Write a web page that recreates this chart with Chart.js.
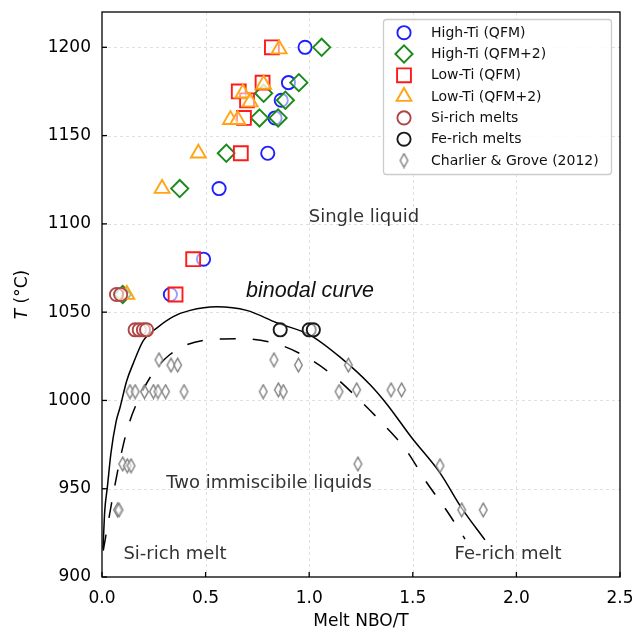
<!DOCTYPE html>
<html>
<head>
<meta charset="utf-8">
<script src="https://cdn.jsdelivr.net/npm/chart.js@4.4.1/dist/chart.umd.min.js"></script>
<style>
  html, body { margin: 0; padding: 0; background: #fff; }
  #wrap { width: 636px; height: 632px; }
</style>
</head>
<body>
<div id="wrap"><canvas id="c" width="636" height="632"></canvas></div>
<script>
// ---- experiment series: melt NBO/T and temperature (°C) ----
const highTiQfmNbo = [0.98, 0.90, 0.865, 0.835, 0.80, 0.565, 0.49, 0.33];
const highTiQfmT   = [1200, 1180, 1170, 1160, 1140, 1120, 1080, 1060];

const highTiQfm2Nbo = [1.06, 0.95, 0.885, 0.85, 0.78, 0.76, 0.60, 0.375, 0.10];
const highTiQfm2T   = [1200, 1180, 1170, 1160, 1174, 1160, 1140, 1120, 1060];

const lowTiQfmNbo = [0.82, 0.775, 0.66, 0.70, 0.685, 0.67, 0.44, 0.355];
const lowTiQfmT   = [1200, 1180, 1175, 1170, 1160, 1140, 1080, 1060];

const lowTiQfm2Nbo = [0.855, 0.78, 0.68, 0.715, 0.62, 0.655, 0.465, 0.29, 0.12];
const lowTiQfm2T   = [1199, 1179, 1174, 1169, 1159, 1159, 1140, 1120, 1060];

const siRichNbo = [0.07, 0.09, 0.16, 0.18, 0.20, 0.215];
const siRichT   = [1060, 1060, 1040, 1040, 1040, 1040];

const feRichNbo = [0.86, 1.00, 1.02];
const feRichT   = [1040, 1040, 1040];

const charlierNbo = [0.275, 0.333, 0.365, 0.135, 0.16, 0.205, 0.248, 0.27, 0.307, 0.396,
                     0.83, 0.948, 0.778, 0.851, 0.875, 1.189, 1.144, 1.229, 1.395, 1.446,
                     1.631, 1.736, 1.84, 1.235, 0.10, 0.122, 0.14, 0.075, 0.082];
const charlierT   = [1023, 1020, 1020, 1005, 1005, 1005, 1005, 1005, 1005, 1005,
                     1023, 1020, 1005, 1006, 1005, 1020, 1005, 1006, 1006, 1006,
                     963, 938, 938, 964, 964, 963, 963, 938, 938];

// ---- binodal (solid) and spinodal-like (dashed) curves ----
const binodalNbo = [0.005, 0.013, 0.026, 0.043, 0.068, 0.087, 0.119, 0.151, 0.20, 0.264, 0.344,
                    0.425, 0.553, 0.698, 0.843, 1.004, 1.149, 1.293, 1.374, 1.494, 1.631, 1.736, 1.848];
const binodalT   = [916, 937, 951, 970, 988, 996, 1011, 1021, 1034, 1041, 1047.5,
                    1051, 1053, 1051, 1044, 1037, 1024.5, 1009, 998, 979, 959, 939, 921];

const dashedNbo = [0.006, 0.039, 0.063, 0.103, 0.135, 0.159, 0.232, 0.328, 0.489, 0.658,
                   0.843, 0.98, 1.117, 1.245, 1.366, 1.47, 1.567, 1.664, 1.752];
const dashedT   = [915, 937, 952.5, 975, 988.5, 996, 1013, 1026, 1034, 1035,
                   1032, 1025, 1014, 1000, 985.5, 971.5, 953.5, 937.5, 921.5];

// ---- axes ----
const xTickStep = 0.5, xMin = 0, xMax = 2.5;
const yTickStep = 50, yMin = 900, yMax = 1220;

const FONT = "'DejaVu Sans', sans-serif";

function pts(xs, ys) { return xs.map((x, i) => ({ x: x, y: ys[i] })); }

// thin diamond marker for the literature data
function thinDiamond(color) {
  const cv = document.createElement('canvas');
  cv.width = 11; cv.height = 16;
  const g = cv.getContext('2d');
  g.beginPath();
  g.moveTo(5.5, 1.2); g.lineTo(9.3, 8); g.lineTo(5.5, 14.8); g.lineTo(1.7, 8); g.closePath();
  g.fillStyle = 'rgba(255,255,255,0.6)';
  g.fill();
  g.strokeStyle = color; g.lineWidth = 1.4;
  g.stroke();
  return cv;
}

const FILL = 'rgba(255,255,255,0.55)';
function markerSet(label, xs, ys, color, style, radius, order) {
  return {
    label: label, type: 'scatter', data: pts(xs, ys), order: order,
    pointStyle: style, pointRadius: radius, pointHoverRadius: radius,
    borderColor: color, backgroundColor: FILL, pointBorderWidth: 1.9, showLine: false
  };
}

const datasets = [
  markerSet('High-Ti (QFM)', highTiQfmNbo, highTiQfmT, '#1f1fff', 'circle', 6.6, 7),
  markerSet('High-Ti (QFM+2)', highTiQfm2Nbo, highTiQfm2T, '#1a8a1a', 'rectRot', 8.6, 6),
  markerSet('Low-Ti (QFM)', lowTiQfmNbo, lowTiQfmT, '#ff1a1a', 'rect', 9.8, 5),
  markerSet('Low-Ti (QFM+2)', lowTiQfm2Nbo, lowTiQfm2T, '#ffa515', 'triangle', 8.6, 4),
  markerSet('Si-rich melts', siRichNbo, siRichT, '#b04545', 'circle', 6.6, 3),
  markerSet('Fe-rich melts', feRichNbo, feRichT, '#1a1a1a', 'circle', 6.6, 2),
  markerSet('Charlier & Grove (2012)', charlierNbo, charlierT, '#808080', thinDiamond('#808080'), 6, 1),
  {
    label: 'binodal', type: 'line', data: pts(binodalNbo, binodalT), order: 9,
    borderColor: '#000', borderWidth: 1.5, pointRadius: 0, fill: false,
    cubicInterpolationMode: 'monotone'
  },
  {
    label: 'dashed', type: 'line', data: pts(dashedNbo, dashedT), order: 8,
    borderColor: '#000', borderWidth: 1.5, borderDash: [16, 17], pointRadius: 0, fill: false,
    cubicInterpolationMode: 'monotone'
  }
];
const legendCount = 7;

// region labels placed in data coordinates
const regionLabels = [
  { text: 'Single liquid', x: 1.264, y: 1103.5, font: '18px ' + FONT, color: '#333' },
  { text: 'binodal curve', x: 1.004, y: 1062, font: 'italic 21.5px "Liberation Sans", Arial, sans-serif', color: '#111' },
  { text: 'Two immiscibile liquids', x: 0.806, y: 952.8, font: '18px ' + FONT, color: '#333' },
  { text: 'Si-rich melt', x: 0.352, y: 913, font: '18px ' + FONT, color: '#333' },
  { text: 'Fe-rich melt', x: 1.96, y: 913, font: '18px ' + FONT, color: '#333' }
];

const framePlugin = {
  id: 'frame',
  beforeDatasetsDraw(chart) {
    const { ctx, chartArea: a, scales: { x, y } } = chart;
    ctx.save();
    ctx.strokeStyle = '#d8d8d8';
    ctx.lineWidth = 0.8;
    ctx.setLineDash([3, 3]);
    for (let v = xMin + xTickStep; v < xMax - 1e-9; v += xTickStep) {
      const px = Math.round(x.getPixelForValue(v)) + 0.5;
      ctx.beginPath(); ctx.moveTo(px, a.top); ctx.lineTo(px, a.bottom); ctx.stroke();
    }
    for (let v = yMin + yTickStep; v < yMax; v += yTickStep) {
      const py = Math.round(y.getPixelForValue(v)) + 0.5;
      ctx.beginPath(); ctx.moveTo(a.left, py); ctx.lineTo(a.right, py); ctx.stroke();
    }
    ctx.restore();
  },
  afterDatasetsDraw(chart) {
    const { ctx, chartArea: a, scales: { x, y } } = chart;
    ctx.save();
    ctx.strokeStyle = '#000';
    ctx.lineWidth = 1.3;
    ctx.strokeRect(a.left, a.top, a.right - a.left, a.bottom - a.top);
    for (let v = xMin; v <= xMax + 1e-9; v += xTickStep) {
      const px = x.getPixelForValue(v);
      ctx.beginPath(); ctx.moveTo(px, a.bottom); ctx.lineTo(px, a.bottom - 5); ctx.stroke();
    }
    for (let v = yMin; v <= yMax; v += yTickStep) {
      const py = y.getPixelForValue(v);
      ctx.beginPath(); ctx.moveTo(a.left, py); ctx.lineTo(a.left + 5, py); ctx.stroke();
    }
    // region labels
    ctx.textAlign = 'center';
    ctx.textBaseline = 'middle';
    regionLabels.forEach(l => {
      ctx.font = l.font;
      ctx.fillStyle = l.color;
      ctx.fillText(l.text, x.getPixelForValue(l.x), y.getPixelForValue(l.y));
    });
    // axis titles
    ctx.fillStyle = '#000';
    ctx.font = '17px ' + FONT;
    ctx.fillText('Melt NBO/T', (a.left + a.right) / 2, 622);
    ctx.save();
    ctx.translate(23, (a.top + a.bottom) / 2);
    ctx.rotate(-Math.PI / 2);
    ctx.font = 'italic 17px ' + FONT;
    const tW = ctx.measureText('T').width;
    ctx.font = '17px ' + FONT;
    const rW = ctx.measureText(' (°C)').width;
    const start = -(tW + rW) / 2;
    ctx.textAlign = 'left';
    ctx.font = 'italic 17px ' + FONT;
    ctx.fillText('T', start, 0);
    ctx.font = '17px ' + FONT;
    ctx.fillText(' (°C)', start + tW, 0);
    ctx.restore();
    ctx.restore();
    drawLegend(chart);
  }
};

function drawLegend(chart) {
  const ctx = chart.ctx;
  const box = { x: 383.5, y: 19.5, w: 228, h: 155 };
  ctx.save();
  ctx.fillStyle = 'rgba(255,255,255,0.85)';
  ctx.strokeStyle = '#cccccc';
  ctx.lineWidth = 1.3;
  ctx.beginPath();
  if (ctx.roundRect) ctx.roundRect(box.x, box.y, box.w, box.h, 3); else ctx.rect(box.x, box.y, box.w, box.h);
  ctx.fill(); ctx.stroke();
  ctx.font = '14px ' + FONT;
  ctx.textBaseline = 'middle';
  ctx.textAlign = 'left';
  for (let i = 0; i < legendCount; i++) {
    const ds = chart.data.datasets[i];
    const cy = 32.7 + i * 21.3;
    ctx.strokeStyle = ds.borderColor;
    ctx.fillStyle = '#fff';
    ctx.lineWidth = ds.pointBorderWidth;
    Chart.helpers.drawPoint(ctx, {
      pointStyle: ds.pointStyle, radius: ds.pointRadius, rotation: 0, borderWidth: ds.pointBorderWidth
    }, 404, cy);
    ctx.fillStyle = '#111';
    ctx.fillText(ds.label, 431, cy + 0.5);
  }
  ctx.restore();
}

function zeroPad(s) { s.paddingLeft = 0; s.paddingRight = 0; s.paddingTop = 0; s.paddingBottom = 0; }

new Chart(document.getElementById('c'), {
  type: 'scatter',
  data: { datasets: datasets },
  options: {
    responsive: false,
    animation: false,
    layout: { padding: { left: 0, right: 16, top: 12, bottom: 0 } },
    plugins: { legend: { display: false }, tooltip: { enabled: false } },
    scales: {
      x: {
        type: 'linear', min: xMin, max: xMax,
        grid: { display: false, drawTicks: false },
        border: { display: false },
        ticks: {
          stepSize: xTickStep, includeBounds: false, padding: 11,
          color: '#000', font: { family: FONT, size: 17 },
          callback: v => v.toFixed(1)
        },
        afterFit: s => { s.height = 55; zeroPad(s); }
      },
      y: {
        type: 'linear', min: yMin, max: yMax,
        grid: { display: false, drawTicks: false },
        border: { display: false },
        ticks: {
          stepSize: yTickStep, includeBounds: false, padding: 11,
          color: '#000', font: { family: FONT, size: 17 },
          callback: v => String(v)
        },
        afterFit: s => { s.width = 102; zeroPad(s); }
      }
    }
  },
  plugins: [framePlugin]
});
</script>
</body>
</html>
